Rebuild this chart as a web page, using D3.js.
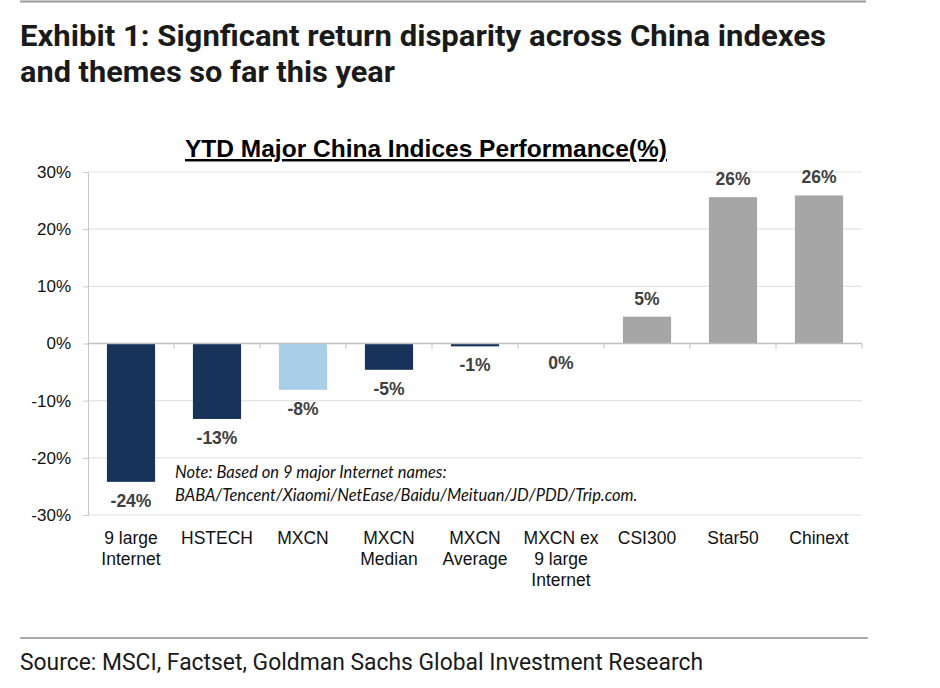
<!DOCTYPE html>
<html>
<head>
<meta charset="utf-8">
<script src="https://cdn.jsdelivr.net/npm/d3@7"></script>
<style>
  body { margin: 0; background: #fff; }
  svg { display: block; }
</style>
</head>
<body>
<svg id="chart" width="940" height="688"></svg>
<script>
// values
var categories = ["9 large|Internet", "HSTECH", "MXCN", "MXCN|Median", "MXCN|Average", "MXCN ex|9 large|Internet", "CSI300", "Star50", "Chinext"];
var values = [-24.2, -13.2, -8.1, -4.6, -0.5, 0.0, 4.7, 25.6, 25.9];
var valueLabels = ["-24%", "-13%", "-8%", "-5%", "-1%", "0%", "5%", "26%", "26%"];
var barColors = ["#17335a", "#17335a", "#a9cfe8", "#17335a", "#17335a", "#17335a", "#a6a6a6", "#a6a6a6", "#a6a6a6"];
var yTicks = [-30, -20, -10, 0, 10, 20, 30];

var svg = d3.select("#chart");
var condensed = "Roboto, 'Liberation Sans', sans-serif";

// top rule
svg.append("line")
    .attr("x1", 20).attr("x2", 866)
    .attr("y1", 1.5).attr("y2", 1.5)
    .style("stroke", "#9a9a9a")
    .style("stroke-width", 2);

// exhibit title (narrow font squeezed to the original widths)
var titleLines = ["Exhibit 1: Signficant return disparity across China indexes", "and themes so far this year"];
var titleWidths = [806, 375];
svg.selectAll("text.title")
    .data(titleLines)
    .enter().append("text")
    .attr("class", "title")
    .attr("x", 20)
    .attr("y", function(d, i){ return 46 + i*36; })
    .attr("textLength", function(d, i){ return titleWidths[i]; })
    .attr("lengthAdjust", "spacingAndGlyphs")
    .text(function(d){ return d; })
    .style("font-family", condensed)
    .style("font-weight", 700)
    .style("font-size", "30px")
    .style("fill", "#1a1a1a");

var margin = {left: 88, right: 862, top: 172, bottom: 515};

var x = d3.scaleBand()
    .domain(categories)
    .range([margin.left, margin.right])
    .paddingInner(0.44)
    .paddingOuter(0.22);

var y = d3.scaleLinear()
    .domain([-30, 30])
    .range([margin.bottom, margin.top]);

// chart title
svg.append("text")
    .attr("x", 426)
    .attr("y", 157)
    .attr("text-anchor", "middle")
    .text("YTD Major China Indices Performance(%)")
    .style("font-family", "'Liberation Sans', Arial, sans-serif")
    .style("font-weight", 700)
    .style("font-size", "24.5px")
    .style("text-decoration", "underline")
    .style("fill", "#000");

// gridlines
svg.append("g")
    .selectAll("line")
    .data(yTicks.filter(function(d){ return d !== 0; }))
    .enter().append("line")
    .attr("x1", margin.left).attr("x2", margin.right)
    .attr("y1", function(d){ return y(d); })
    .attr("y2", function(d){ return y(d); })
    .style("stroke", "#e3e3e3")
    .style("stroke-width", 1.2);

// y axis
var yAxis = d3.axisLeft(y)
    .tickValues(yTicks)
    .tickFormat(function(d){ return d + "%"; })
    .tickSize(5)
    .tickPadding(12);

var gy = svg.append("g")
    .attr("transform", "translate(" + margin.left + ",0)")
    .call(yAxis);
gy.select(".domain").style("stroke", "#c8c8c8");
gy.selectAll(".tick line").style("stroke", "#c8c8c8");
gy.selectAll(".tick text")
    .style("font-family", "'Liberation Sans', Arial, sans-serif")
    .style("font-size", "17px")
    .style("fill", "#111");

// bars
svg.append("g")
    .selectAll("rect")
    .data(values)
    .enter().append("rect")
    .attr("x", function(d, i){ return x(categories[i]); })
    .attr("width", x.bandwidth())
    .attr("y", function(d){ return y(Math.max(0, d)); })
    .attr("height", function(d){ return Math.abs(y(d) - y(0)); })
    .style("fill", function(d, i){ return barColors[i]; });

// zero line with band ticks
var bandEdges = categories.map(function(c){ return x(c) - x.step()*x.paddingInner()/2; });
bandEdges.push(margin.right);
svg.append("line")
    .attr("x1", margin.left).attr("x2", margin.right)
    .attr("y1", y(0)).attr("y2", y(0))
    .style("stroke", "#c0c0c0")
    .style("stroke-width", 1.5);
svg.append("g")
    .selectAll("line")
    .data(bandEdges.slice(1))
    .enter().append("line")
    .attr("x1", function(d){ return d; })
    .attr("x2", function(d){ return d; })
    .attr("y1", y(0))
    .attr("y2", y(0) + 5)
    .style("stroke", "#c0c0c0");

// value labels
svg.append("g")
    .selectAll("text")
    .data(values)
    .enter().append("text")
    .attr("x", function(d, i){ return x(categories[i]) + x.bandwidth()/2; })
    .attr("y", function(d){ return d > 0 ? y(d) - 12 : y(d) + 25; })
    .attr("text-anchor", "middle")
    .text(function(d, i){ return valueLabels[i]; })
    .style("font-family", "'Liberation Sans', Arial, sans-serif")
    .style("font-weight", 700)
    .style("font-size", "17.5px")
    .style("fill", "#404040");

// category labels
var catG = svg.append("g")
    .selectAll("text")
    .data(categories)
    .enter().append("text")
    .attr("x", function(d){ return x(d) + x.bandwidth()/2; })
    .attr("y", 544)
    .attr("text-anchor", "middle")
    .style("font-family", "'Liberation Sans', Arial, sans-serif")
    .style("font-size", "17.5px")
    .style("fill", "#111");
catG.selectAll("tspan")
    .data(function(d){ return d.split("|"); })
    .enter().append("tspan")
    .attr("x", function(){ return d3.select(this.parentNode).attr("x"); })
    .attr("dy", function(d, i){ return i === 0 ? 0 : 21; })
    .text(function(d){ return d; });

// note
var noteLines = ["Note: Based on 9 major Internet names:", "BABA/Tencent/Xiaomi/NetEase/Baidu/Meituan/JD/PDD/Trip.com."];
svg.append("g")
    .selectAll("text")
    .data(noteLines)
    .enter().append("text")
    .attr("x", 175)
    .attr("y", function(d, i){ return 478 + i*23; })
    .text(function(d){ return d; })
    .style("font-family", "Lato, 'Open Sans', sans-serif")
    .style("font-style", "italic")
    .style("font-size", "16.5px")
    .style("fill", "#111");

// source rule and text
svg.append("line")
    .attr("x1", 20).attr("x2", 868)
    .attr("y1", 638).attr("y2", 638)
    .style("stroke", "#555")
    .style("stroke-width", 1.2);

svg.append("text")
    .attr("x", 20)
    .attr("y", 670)
    .attr("textLength", 683)
    .attr("lengthAdjust", "spacingAndGlyphs")
    .text("Source: MSCI, Factset, Goldman Sachs Global Investment Research")
    .style("font-family", condensed)
    .style("font-size", "23px")
    .style("fill", "#1a1a1a");
</script>
</body>
</html>
